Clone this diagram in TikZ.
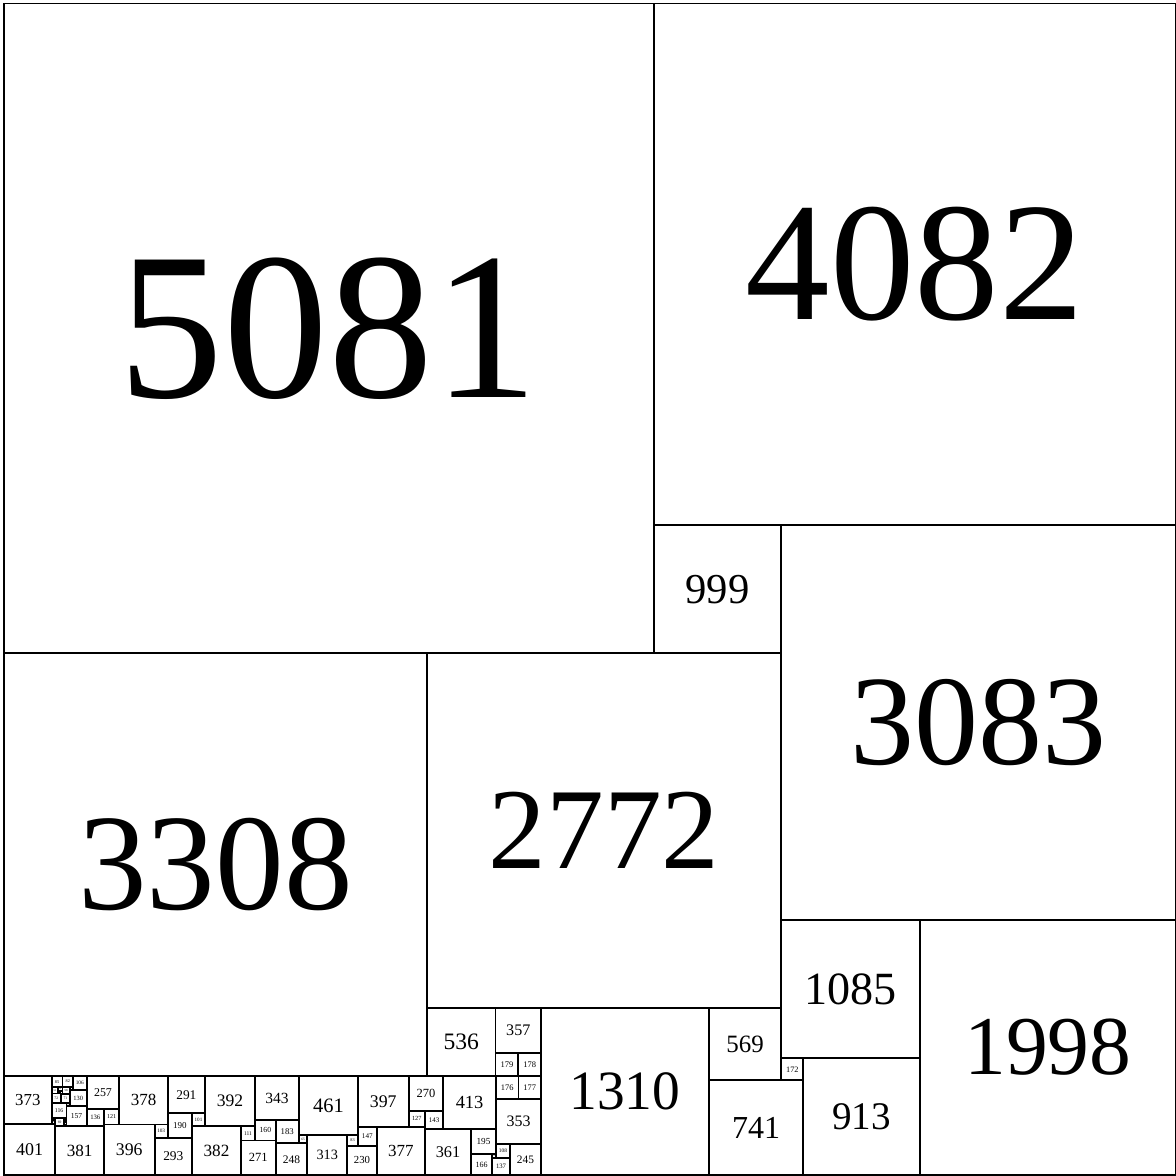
\documentclass[tikz,border=0pt]{standalone}
\usepackage{fontspec}
\setmainfont{Liberation Serif}
\tikzset{
  sq/.style={draw=black,line width=4.2pt},
  lbl/.style={inner sep=0pt,anchor=center},
}

\begin{document}
\begin{tikzpicture}[x=0.01cm,y=-0.01cm]
  \useasboundingbox (-31,-27) rectangle (9166,9166);
  % ---- squares: left/top corner and side
  \foreach \x/\y/\s in {0/0/5081, 5081/0/4082, 5081/4082/999, 6080/4082/3083,
      0/5081/3308, 3308/5081/2772, 6080/7165/1085, 7165/7165/1998,
      6252/8250/913, 6080/8250/172, 5511/8422/741, 5511/7853/569,
      4201/7853/1310, 3844/7853/357, 3308/7853/536, 3844/8210/179,
      4023/8210/178, 3848/8389/176, 4024/8388/177, 3848/8565/353,
      3956/8918/245, 3848/8918/108, 3819/9026/137, 3819/8997/29,
      3653/8802/195, 3653/8997/166, 3435/8389/413, 3292/8802/361,
      3292/8659/143, 3165/8389/270, 3165/8659/127, 2915/8786/377,
      2768/8389/397, 2768/8786/147, 2685/8933/230, 2685/8850/83,
      2307/8389/461, 2372/8850/313, 2307/8850/65, 1964/8389/343,
      2124/8732/183, 2124/8915/248, 1964/8732/160, 1853/8892/271,
      1853/8781/111, 1572/8389/392, 1471/8781/382, 1471/8680/101,
      1281/8389/291, 1281/8680/190, 1178/8767/103, 1178/8870/293,
      903/8389/378, 782/8767/396, 401/8782/381, 0/8762/401,
      0/8389/373, 646/8389/257, 782/8646/121, 646/8646/136,
      489/8625/157, 516/8495/130, 540/8389/106} {
    \draw[sq] (\x,\y) rectangle ++(\s,\s);
    \pgfmathsetmacro\fs{0.284528*\s*(0.32+15/(\s+100))}
    \node[lbl,font=\fontsize{\fs pt}{\fs pt}\selectfont] (sq-\x-\y) at (\x+\s/2,\y+\s/2) {\s};
  }

  % ---- small cluster next to 373
  \foreach \x/\y/\s in {373/8389/85, 458/8389/82, 516/8471/24, 373/8474/51,
      424/8474/34, 424/8508/17, 441/8508/17, 458/8471/58, 373/8525/72,
      445/8529/71, 373/8597/116, 489/8600/25, 373/8713/21, 373/8734/28,
      401/8713/69, 470/8713/19, 470/8732/19, 470/8751/19, 470/8770/12} {
    \draw[sq] (\x,\y) rectangle ++(\s,\s);
    \pgfmathsetmacro\fs{0.284528*\s*(0.32+15/(\s+100))}
    \node[lbl,font=\fontsize{\fs pt}{\fs pt}\selectfont] (sq-\x-\y) at (\x+\s/2,\y+\s/2) {\s};
  }
\end{tikzpicture}
\end{document}
